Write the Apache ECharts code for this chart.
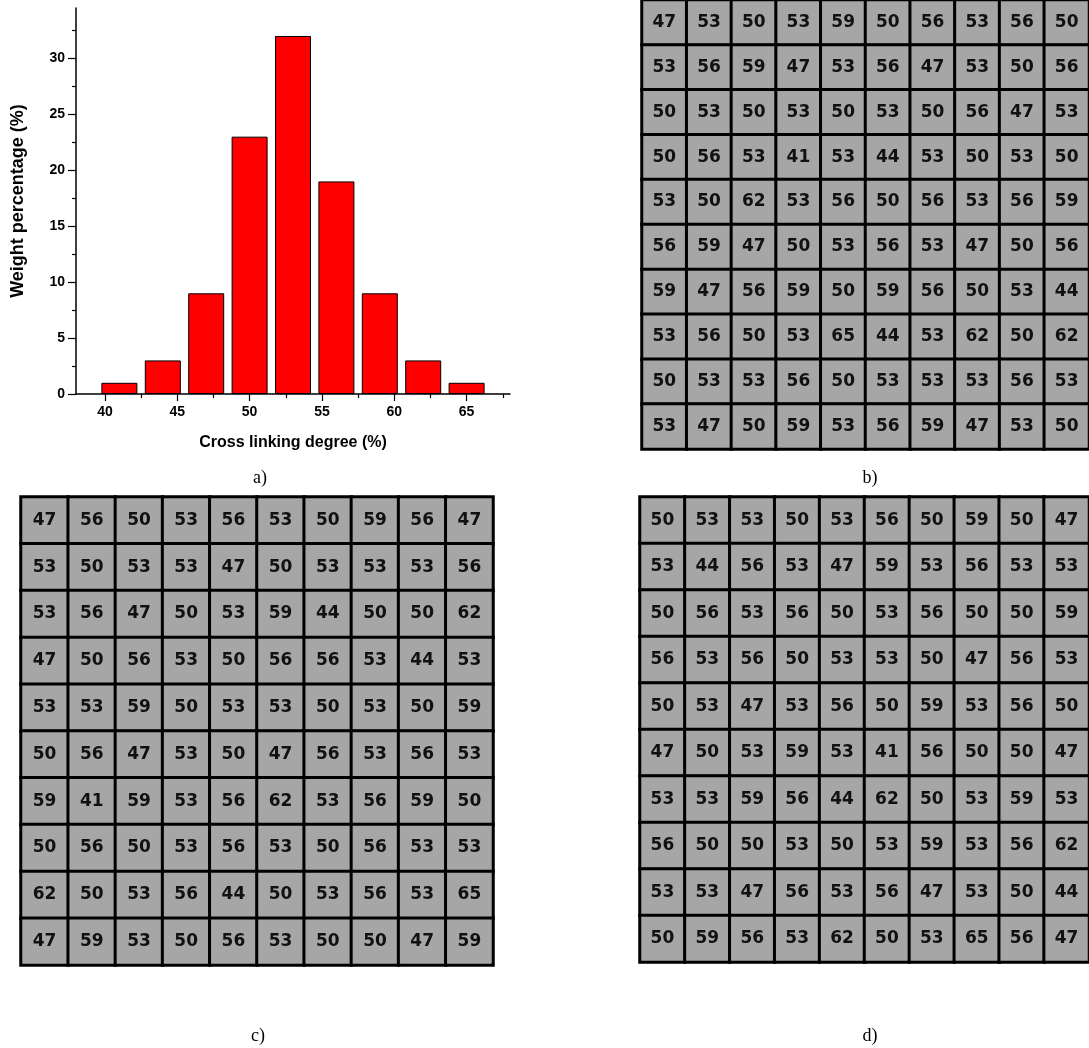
<!DOCTYPE html>
<html>
<head>
<meta charset="utf-8">
<script src="https://cdn.jsdelivr.net/npm/echarts@6/dist/echarts.min.js"></script>
<style>
html,body{margin:0;padding:0;background:#fff;}
#chart{width:1089px;height:1048px;}
</style>
</head>
<body>
<div id="chart"></div>
<script>
// ---- a) histogram data ----
const binCenters = [41, 44, 47, 50, 53, 56, 59, 62, 65];
const weightPct = [1, 3, 9, 23, 32, 19, 9, 3, 1];
const xTickLabels = [40, 45, 50, 55, 60, 65];
const xMinorTicks = [42.5, 47.5, 52.5, 57.5, 62.5, 67.5];
const yTickLabels = [0, 5, 10, 15, 20, 25, 30];
const yMinorTicks = [2.5, 7.5, 12.5, 17.5, 22.5, 27.5, 32.5];

// ---- b), c), d) lattice data (rows top to bottom) ----
const gridB = [
  [47,53,50,53,59,50,56,53,56,50],
  [53,56,59,47,53,56,47,53,50,56],
  [50,53,50,53,50,53,50,56,47,53],
  [50,56,53,41,53,44,53,50,53,50],
  [53,50,62,53,56,50,56,53,56,59],
  [56,59,47,50,53,56,53,47,50,56],
  [59,47,56,59,50,59,56,50,53,44],
  [53,56,50,53,65,44,53,62,50,62],
  [50,53,53,56,50,53,53,53,56,53],
  [53,47,50,59,53,56,59,47,53,50]
];
const gridC = [
  [47,56,50,53,56,53,50,59,56,47],
  [53,50,53,53,47,50,53,53,53,56],
  [53,56,47,50,53,59,44,50,50,62],
  [47,50,56,53,50,56,56,53,44,53],
  [53,53,59,50,53,53,50,53,50,59],
  [50,56,47,53,50,47,56,53,56,53],
  [59,41,59,53,56,62,53,56,59,50],
  [50,56,50,53,56,53,50,56,53,53],
  [62,50,53,56,44,50,53,56,53,65],
  [47,59,53,50,56,53,50,50,47,59]
];
const gridD = [
  [50,53,53,50,53,56,50,59,50,47],
  [53,44,56,53,47,59,53,56,53,53],
  [50,56,53,56,50,53,56,50,50,59],
  [56,53,56,50,53,53,50,47,56,53],
  [50,53,47,53,56,50,59,53,56,50],
  [47,50,53,59,53,41,56,50,50,47],
  [53,53,59,56,44,62,50,53,59,53],
  [56,50,50,53,50,53,59,53,56,62],
  [53,53,47,56,53,56,47,53,50,44],
  [50,59,56,53,62,50,53,65,56,47]
];
const captions = ['a)', 'b)', 'c)', 'd)'];

const idx = ['0','1','2','3','4','5','6','7','8','9'];
function toCells(g) {
  const out = [];
  g.forEach((row, r) => row.forEach((v, c) => out.push([c, r, v])));
  return out;
}

const sansBold = {fontFamily: 'Liberation Sans', fontWeight: 'bold', color: '#000'};

const grids = [
  {left: 76, top: 8, width: 434, height: 386},      // a
  {left: 642, top: -4, width: 453, height: 453},    // b
  {left: 21, top: 497, width: 472, height: 468},    // c
  {left: 640, top: 497, width: 453, height: 465}    // d
];

const xAxes = [
  {
    gridIndex: 0, type: 'value', min: 38, max: 68, position: 'bottom',
    axisLine: {show: true, onZero: false, lineStyle: {color: '#000', width: 1.5}},
    axisTick: {show: true, inside: false, length: 7, customValues: xTickLabels, lineStyle: {color: '#000', width: 1.2}},
    axisLabel: Object.assign({show: true, fontSize: 14, margin: 11, customValues: xTickLabels}, sansBold),
    splitLine: {show: false},
    name: 'Cross linking degree (%)', nameLocation: 'middle', nameGap: 41,
    nameTextStyle: Object.assign({fontSize: 16}, sansBold)
  },
  {
    gridIndex: 0, type: 'value', min: 38, max: 68, position: 'bottom',
    axisLine: {show: false},
    axisTick: {show: true, inside: false, length: 4, customValues: xMinorTicks, lineStyle: {color: '#000', width: 1.2}},
    axisLabel: {show: false, customValues: xMinorTicks},
    splitLine: {show: false}
  },
  {gridIndex: 1, type: 'category', data: idx, show: false},
  {gridIndex: 2, type: 'category', data: idx, show: false},
  {gridIndex: 3, type: 'category', data: idx, show: false}
];

const yAxes = [
  {
    gridIndex: 0, type: 'value', min: 0, max: 34.5, position: 'left',
    axisLine: {show: true, onZero: false, lineStyle: {color: '#000', width: 1.5}},
    axisTick: {show: true, inside: false, length: 8, customValues: yTickLabels, lineStyle: {color: '#000', width: 1.2}},
    axisLabel: Object.assign({show: true, fontSize: 14, margin: 11, customValues: yTickLabels}, sansBold),
    splitLine: {show: false},
    name: 'Weight percentage (%)', nameLocation: 'middle', nameGap: 49, nameRotate: 90,
    nameTextStyle: Object.assign({fontSize: 18}, sansBold)
  },
  {
    gridIndex: 0, type: 'value', min: 0, max: 34.5, position: 'left',
    axisLine: {show: false},
    axisTick: {show: true, inside: false, length: 4, customValues: yMinorTicks, lineStyle: {color: '#000', width: 1.2}},
    axisLabel: {show: false, customValues: yMinorTicks},
    splitLine: {show: false}
  },
  {gridIndex: 1, type: 'category', data: idx, inverse: true, show: false},
  {gridIndex: 2, type: 'category', data: idx, inverse: true, show: false},
  {gridIndex: 3, type: 'category', data: idx, inverse: true, show: false}
];

function latticeSeries(g, axisIdx) {
  return {
    type: 'heatmap', xAxisIndex: axisIdx, yAxisIndex: axisIdx,
    data: toCells(g),
    itemStyle: {color: '#a6a6a6', borderColor: '#000', borderWidth: 3},
    label: {
      show: true, formatter: p => String(p.value[2]),
      fontFamily: 'DejaVu Sans', fontWeight: 'bold', fontSize: 17, color: '#111'
    },
    emphasis: {disabled: true}
  };
}

const captionPos = [[260, 469], [870, 469], [258, 1027], [870, 1027]];
const titles = captions.map((t, i) => ({
  text: t, left: captionPos[i][0], top: captionPos[i][1], textAlign: 'center', padding: 0,
  textStyle: {fontFamily: 'Liberation Serif', fontWeight: 'normal', fontSize: 18, color: '#000'}
}));

const option = {
  animation: false,
  backgroundColor: '#fff',
  title: titles,
  grid: grids.map(g => Object.assign({containLabel: false}, g)),
  xAxis: xAxes,
  yAxis: yAxes,
  series: [
    {
      type: 'bar', xAxisIndex: 0, yAxisIndex: 0,
      data: binCenters.map((c, i) => [c, weightPct[i]]),
      barWidth: 36,
      itemStyle: {color: '#ff0000', borderColor: '#000', borderWidth: 1}
    },
    latticeSeries(gridB, 2),
    latticeSeries(gridC, 3),
    latticeSeries(gridD, 4)
  ]
};

const chart = echarts.init(document.getElementById('chart'), null, {renderer: 'canvas'});
chart.setOption(option);
</script>
</body>
</html>
